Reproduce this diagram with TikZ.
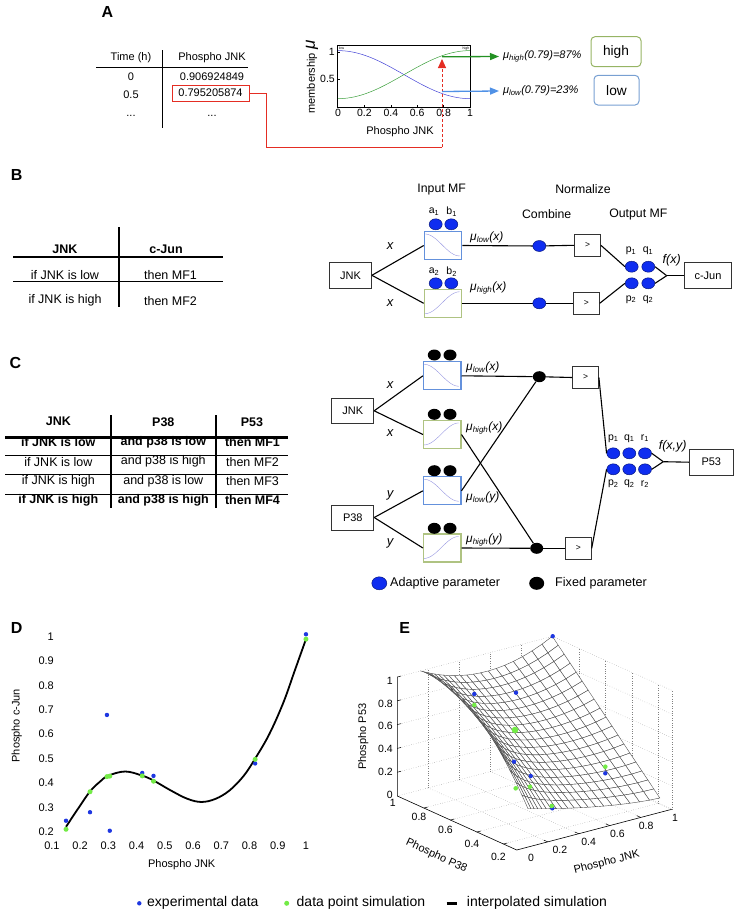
\documentclass[tikz,border=0pt]{standalone}
\usepackage{fontspec}
\setmainfont{Liberation Sans}
\usetikzlibrary{arrows.meta,shapes.geometric}

\newcommand{\fsz}[1]{\fontsize{#1}{#1}\selectfont}
% small membership curve inside an MF box; #2 is - (falling) or + (rising)
\newcommand{\mfcurve}[2]{\begin{scope}[shift={(#1.north west)}]
  \draw[mfline] plot[domain=0:1,samples=25] ({1+35*\x},{3+22*(0.5#20.5*cos(180*\x))});
\end{scope}}

\definecolor{parblue}{RGB}{15,45,240}
\definecolor{mfblue}{RGB}{100,145,220}
\definecolor{mfgreen}{RGB}{175,195,130}
\definecolor{mfcurvecol}{RGB}{150,150,225}
\definecolor{redA}{RGB}{228,45,35}
\definecolor{arrgreen}{RGB}{35,145,35}
\definecolor{arrblue}{RGB}{80,145,230}
\definecolor{boxgreen}{RGB}{150,180,100}
\definecolor{boxblue}{RGB}{120,160,210}
\definecolor{curveblue}{RGB}{70,70,215}
\definecolor{curvegreen}{RGB}{60,160,60}
\definecolor{ptblue}{RGB}{30,55,225}
\definecolor{ptgreen}{RGB}{115,235,70}
\definecolor{meshgray}{RGB}{75,75,75}

\tikzset{
  panel/.style={font=\fsz{16}\bfseries},
  tab/.style={font=\fsz{12.5}},
  tabb/.style={font=\fsz{12.5}\bfseries},
  inbox/.style={draw=black!80,line width=0.8pt,minimum width=42pt,minimum height=26pt,inner sep=0pt,font=\fsz{11}},
  mfbox/.style={draw=#1,line width=1.1pt,fill=white,minimum width=37.5pt,minimum height=28pt,inner sep=0pt},
  normbox/.style={draw=black!80,line width=0.8pt,minimum width=26pt,minimum height=22pt,inner sep=0pt,font=\fsz{8.5}},
  adapt/.style={ellipse,fill=parblue,draw=parblue!55!black,line width=0.5pt,minimum width=13pt,minimum height=11pt,inner sep=0pt},
  fixed/.style={ellipse,fill=black,minimum width=13pt,minimum height=11pt,inner sep=0pt},
  wire/.style={line width=1.1pt},
  mfline/.style={mfcurvecol,line width=0.4pt},
  mulbl/.style={anchor=west,font=\fsz{12}\itshape,inner sep=0pt},
  varlbl/.style={font=\fsz{13}\itshape},
  parlbl/.style={font=\fsz{10.5}},
  head/.style={font=\fsz{12.3}},
  gridE/.style={gray,line width=0.4pt,dotted},
  meshE/.style={fill=white,draw=meshgray,line width=0.4pt},
  lgtext/.style={anchor=west,inner sep=0pt,font=\fsz{14}}
}

\begin{document}
\begin{tikzpicture}[x=1pt,y=-1pt,>=Stealth,font=\fsz{11},
  declare function={
    eX(\pP,\jJ)=397.3+(1-\pP)*132.7+\jJ*155;
    eY(\pP,\jJ,\zZ)=796+(1-\pP)*60-\jJ*40.7-119*\zZ;
    zE(\sA,\tA)=\sA*(1-0.6*\tA*(1-\tA))+(1-\sA)*(0.05+0.2*(1-\tA)*sqrt(1-\tA))+0.92*\sA*(1-\sA)*exp(-\tA/0.12);
  }]
\useasboundingbox (0,0) rectangle (737,916);

% panel letters
\node[panel] (pA) at (107.5,11.7) {A};
\node[panel] (pB) at (16.7,175) {B};
\node[panel] (pC) at (15.3,363.3) {C};
\node[panel] (pD) at (16.7,628.3) {D};
\node[panel] (pE) at (404.7,628.3) {E};

% ---------------- A: data table
\node (aHt) at (131,58) {Time (h)};
\node (aHv) at (212,58) {Phospho JNK};
\draw[line width=1.3pt] (96,67.7) -- (248,67.7);
\draw[line width=1.3pt] (162.7,50) -- (162.7,128);
\node (aT0) at (131,77) {0};
\node (aV0) at (212,77) {0.906924849};
\node (aT1) at (131,95) {0.5};
\node[draw=redA,line width=0.9pt,minimum width=77pt,minimum height=16pt,inner sep=0pt] (redBox) at (210.5,93) {0.795205874};
\node (aT2) at (131,116) {...};
\node (aV2) at (212,116) {...};

% ---------------- A: membership functions
\draw[line width=0.6pt] (337.7,45.7) rectangle (470.3,107.3);
\begin{scope}[shift={(338pt,-106.3pt)},x=132pt,y=54.6pt]
  \draw[curveblue,line width=0.5pt] plot[domain=0:1,samples=40] (\x,{0.58+0.44*cos(180*\x)});
  \draw[curvegreen,line width=0.5pt] plot[domain=0:1,samples=40] (\x,{0.58-0.44*cos(180*\x)});
  \foreach \v in {0.2,0.4,0.6,0.8} \draw[line width=0.4pt] (\v,-0.018) -- ++(0,2pt);
  \foreach \w in {0.5,1} \draw[line width=0.4pt] (0,\w) -- ++(2pt,0);
\end{scope}
\node[font=\fsz{3.5},anchor=north west,inner sep=0.6pt] (tLow) at (338,46) {low};
\node[font=\fsz{3.5},anchor=north east,inner sep=0.6pt] (tHigh) at (470,46) {high};
\foreach \v [count=\k] in {0,0.2,0.4,0.6,0.8,1} \node[font=\fsz{10.5}] (axA\k) at ({338+132*\v},113) {\v};
\node[font=\fsz{10.5},anchor=east,inner sep=1pt] (ayA1) at (336,79) {0.5};
\node[font=\fsz{10.5},anchor=east,inner sep=1pt] (ayA2) at (336,51.7) {1};
\node (xlA) at (400,131.7) {Phospho JNK};
\node[rotate=90] (ylA) at (312,77) {membership \fsz{17}\textit{μ}};

% red link from the value to the plot
\coordinate (redTurn) at (266,147);
\coordinate (redFoot) at (442,147);
\coordinate (redTip) at (442,59);
\draw[redA,line width=1pt] (redBox.east) -| (redTurn) -- (redFoot);
\draw[redA,line width=1pt,dash pattern=on 3pt off 2pt,-{Triangle[width=8pt,length=9pt]}] (redFoot) -- (redTip);

% fuzzified values
\coordinate (hiPt) at (442,56.8);
\coordinate (loPt) at (442,91.5);
\node[anchor=west,inner sep=0pt,font=\fsz{11}\itshape] (hiLbl) at (503,56.5) {μ\textsubscript{high}(0.79)=87\%};
\node[anchor=west,inner sep=0pt,font=\fsz{11}\itshape] (loLbl) at (503,91) {μ\textsubscript{low}(0.79)=23\%};
\draw[arrgreen,line width=1.3pt,-{Triangle[width=7pt,length=9pt]}] (hiPt) -- ([xshift=-4pt]hiLbl.west);
\draw[arrblue,line width=1.3pt,-{Triangle[width=7pt,length=9pt]}] (loPt) -- ([xshift=-4pt]loLbl.west);
\node[draw=boxgreen,rounded corners=4pt,line width=1pt,minimum width=50pt,minimum height=30pt,font=\fsz{13.7}] (hiBox) at (616,51.7) {high};
\node[draw=boxblue,rounded corners=4pt,line width=1pt,minimum width=45pt,minimum height=29.7pt,font=\fsz{13.7}] (loBox) at (616.5,90.2) {low};

% ---------------- B: rule table
\node[tabb] (bH1) at (65,249.3) {JNK};
\node[tabb] (bH2) at (166,249.3) {c-Jun};
\draw[line width=2.4pt] (13,256.7) -- (223,256.7);
\draw[line width=0.8pt] (13,281) -- (223,281);
\draw[line width=2pt] (119,227.3) -- (119,306.7);
\node[tab] (bR1a) at (65,274.7) {if JNK is low};
\node[tab] (bR1b) at (170.5,274.7) {then MF1};
\node[tab] (bR2a) at (65,300.7) {if JNK is high};
\node[tab] (bR2b) at (170.5,300.7) {then MF2};

% ---------------- B: network
\node[head] (hInB) at (441.7,189.3) {Input MF};
\node[head] (hNoB) at (583,189.3) {Normalize};
\node[head] (hCoB) at (546.7,214) {Combine};
\node[head] (hOuB) at (638.3,214) {Output MF};

\node[inbox] (jnkB) at (350.5,275.3) {JNK};
\node[mfbox=mfblue] (mfBlo) at (443,245.5) {};
\node[mfbox=mfgreen] (mfBhi) at (443,303.3) {};
\mfcurve{mfBlo}{-}
\mfcurve{mfBhi}{+}
\node[normbox] (nmBlo) at (587.5,245.3) {>};
\node[normbox] (nmBhi) at (586.3,303.3) {>};
\coordinate (jnB) at (666.7,275.7);
\node[inbox,minimum width=47.4pt] (cjunB) at (708,275.7) {c-Jun};

\draw[wire] (jnkB.east) -- (mfBlo.west);
\draw[wire] (jnkB.east) -- (mfBhi.west);
\draw[wire] (mfBlo.east) -- (539.3,246) coordinate (cB1) -- (nmBlo.west);
\draw[wire] (mfBhi.east) -- (539.3,303.3) coordinate (cB2) -- (nmBhi.west);

\node[adapt] (aB1) at (435.7,224.3) {};
\node[adapt] (bB1) at (451.3,224.3) {};
\node[adapt] (aB2) at (435.7,283.3) {};
\node[adapt] (bB2) at (451.3,283.3) {};
\node[adapt] (cmBlo) at (cB1) {};
\node[adapt] (cmBhi) at (cB2) {};
\node[adapt] (pB1) at (631.7,266.7) {};
\node[adapt] (qB1) at (648.3,266.7) {};
\node[adapt] (pB2) at (631.7,283.3) {};
\node[adapt] (qB2) at (648.3,283.3) {};

\draw[wire] (nmBlo.east) -- (pB1.west);
\draw[wire] (nmBhi.east) -- (pB2.west);
\draw[wire] (qB1.east) -- (jnB);
\draw[wire] (qB2.east) -- (jnB);
\draw[wire] (jnB) -- (cjunB.west);

\node[parlbl] (laB1) at (434,211.7) {a\textsubscript{1}};
\node[parlbl] (lbB1) at (451.7,211.7) {b\textsubscript{1}};
\node[parlbl] (laB2) at (434,271.7) {a\textsubscript{2}};
\node[parlbl] (lbB2) at (451.7,271.7) {b\textsubscript{2}};
\node[parlbl] (lpB1) at (631,250.7) {p\textsubscript{1}};
\node[parlbl] (lqB1) at (648,250.7) {q\textsubscript{1}};
\node[parlbl] (lpB2) at (631,299.3) {p\textsubscript{2}};
\node[parlbl] (lqB2) at (648,299.3) {q\textsubscript{2}};
\node[varlbl] (xB1) at (390,246) {x};
\node[varlbl] (xB2) at (390,302.7) {x};
\node[mulbl] (muB1) at (470,237.3) {μ\textsubscript{low}(x)};
\node[mulbl] (muB2) at (470,288.3) {μ\textsubscript{high}(x)};
\node[font=\fsz{12.5}\itshape] (fB) at (671.7,260) {f(x)};

% ---------------- C: rule table
\node[tabb] (cH1) at (58.5,421.7) {JNK};
\node[tabb] (cH2) at (163.3,421.7) {P38};
\node[tabb] (cH3) at (252,421.7) {P53};
\draw[line width=2pt] (111,415) -- (111,508);
\draw[line width=2pt] (216,415) -- (216,508);
\draw[line width=2.4pt] (5,437.5) -- (288.3,437.5);
\foreach \h in {455.3,474.8,494.5} \draw[line width=1pt] (5,\h) -- (288.3,\h);
\foreach \ya/\rs/\ta/\tb/\tc [count=\k] in {442/\bfseries/if JNK is low/and p38 is low/then MF1,
    461.7//if JNK is low/and p38 is high/then MF2,
    481//if JNK is high/and p38 is low/then MF3,
    500.5/\bfseries/if JNK is high/and p38 is high/then MF4}{
  \node[tab] (cR\k a) at (58.3,\ya) {\rs\ta};
  \node[tab] (cR\k b) at (163.3,\ya) {\rs\tb};
  \node[tab] (cR\k c) at (252.5,\ya) {\rs\tc};
}

% ---------------- C: network
\node[inbox,minimum height=25pt] (jnkC) at (352.8,410.8) {JNK};
\node[inbox,minimum height=25pt] (p38C) at (352.8,517.5) {P38};
\node[mfbox=mfblue] (mfC1) at (442.2,375.8) {};
\node[mfbox=mfgreen] (mfC2) at (442.2,434.5) {};
\node[mfbox=mfblue] (mfC3) at (442.2,490.8) {};
\node[mfbox=mfgreen] (mfC4) at (442.2,548) {};
\mfcurve{mfC1}{-}
\mfcurve{mfC2}{+}
\mfcurve{mfC3}{-}
\mfcurve{mfC4}{+}
\node[fixed] (cmC1) at (539.3,376.7) {};
\node[fixed] (cmC2) at (536.7,548.3) {};
\node[normbox] (nmC1) at (585.5,377.5) {>};
\node[normbox] (nmC2) at (578.3,548.3) {>};
\coordinate (jnC) at (663.3,461.7);
\node[inbox,minimum width=44pt] (p53C) at (711.3,462.2) {P53};

\draw[wire] (jnkC.east) -- (mfC1.west);
\draw[wire] (jnkC.east) -- (mfC2.west);
\draw[wire] (p38C.east) -- (mfC3.west);
\draw[wire] (p38C.east) -- (mfC4.west);
\draw[wire] (mfC1.east) -- (cmC1);
\draw[wire] (mfC3.east) -- (cmC1);
\draw[wire] (mfC2.east) -- (cmC2);
\draw[wire] (mfC4.east) -- (cmC2);
\draw[wire] (cmC1) -- (nmC1.west);
\draw[wire] (cmC2) -- (nmC2.west);

\foreach \yy/\k in {355/1,414.3/2,470.7/3,528.3/4}{
  \node[fixed] (aC\k) at (434.3,\yy) {};
  \node[fixed] (bC\k) at (450,\yy) {};
}
\foreach \n/\xx in {p/613.3,q/629.3,r/645}{
  \node[adapt] (\n C1) at (\xx,453.3) {};
  \node[adapt] (\n C2) at (\xx,469.3) {};
  \node[parlbl] (l\n C1) at (\xx,438.3) {\n\textsubscript{1}};
  \node[parlbl] (l\n C2) at (\xx,484) {\n\textsubscript{2}};
}
\draw[wire] (nmC1.east) -- (pC1.west);
\draw[wire] (nmC2.east) -- (pC2.west);
\draw[wire] (rC1.east) -- (jnC);
\draw[wire] (rC2.east) -- (jnC);
\draw[wire] (jnC) -- (p53C.west);

\node[varlbl] (xC1) at (390,385) {x};
\node[varlbl] (xC2) at (390,433.3) {x};
\node[varlbl] (yC1) at (390,495) {y};
\node[varlbl] (yC2) at (390,543.3) {y};
\node[mulbl] (muC1) at (466,367.7) {μ\textsubscript{low}(x)};
\node[mulbl] (muC2) at (466,428.3) {μ\textsubscript{high}(x)};
\node[mulbl] (muC3) at (466,497.7) {μ\textsubscript{low}(y)};
\node[mulbl] (muC4) at (466,540) {μ\textsubscript{high}(y)};
\node[font=\fsz{12.5}\itshape] (fC) at (672.7,446.7) {f(x,y)};

\node[adapt,minimum width=15pt,minimum height=13pt] (lgAd) at (379.3,583.3) {};
\node[anchor=west,inner sep=0pt,font=\fsz{12.6}] (lgAdT) at (390,583.3) {Adaptive parameter};
\node[fixed,minimum width=15pt,minimum height=13pt] (lgFx) at (536.7,583.3) {};
\node[anchor=west,inner sep=0pt,font=\fsz{12.6}] (lgFxT) at (555,583.3) {Fixed parameter};

% ---------------- D: c-Jun fit
\begin{scope}[shift={(23.67pt,-880.45pt)},x=282.3pt,y=243.75pt]
  \draw[line width=1.8pt] plot[smooth,tension=0.6] coordinates {(0.15,0.22) (0.19,0.29) (0.235,0.365) (0.27,0.405)
    (0.30,0.43) (0.36,0.447) (0.42,0.43) (0.46,0.41) (0.52,0.37) (0.58,0.335) (0.63,0.322) (0.68,0.335)
    (0.73,0.37) (0.78,0.43) (0.82,0.50) (0.87,0.6) (0.92,0.73) (0.96,0.86) (1.0,0.99)};
  \foreach \p/\q in {0.15/0.245,0.235/0.28,0.295/0.679,0.305/0.204,0.42/0.441,0.46/0.429,0.82/0.48,1/1.01}
    \fill[ptblue] (\p,\q) circle[radius=2.2pt];
  \foreach \p/\q in {0.15/0.21,0.235/0.364,0.295/0.426,0.305/0.428,0.42/0.429,0.46/0.407,0.82/0.497,1/0.99}
    \fill[ptgreen] (\p,\q) circle[radius=2.5pt];
\end{scope}
\foreach \v [count=\k] in {0.1,0.2,0.3,0.4,0.5,0.6,0.7,0.8,0.9,1}
  \node (axD\k) at ({23.67+282.3*\v},846) {\v};
\foreach \w [count=\k] in {0.2,0.3,0.4,0.5,0.6,0.7,0.8,0.9,1}
  \node[anchor=east,inner sep=1pt] (ayD\k) at (55,{880.45-243.75*\w}) {\w};
\node (xlD) at (181.7,865) {Phospho JNK};
\node[rotate=90] (ylD) at (16.7,725.7) {Phospho c-Jun};

% ---------------- E: P53 surface
\foreach \z in {0,0.2,0.4,0.6,0.8,1}
  \draw[gridE] ({eX(1,0)},{eY(1,0,\z)}) -- ({eX(1,1)},{eY(1,1,\z)}) -- ({eX(0.1,1)},{eY(0.1,1,\z)});
\foreach \j in {0.2,0.4,0.6,0.8,1}{
  \draw[gridE] ({eX(1,\j)},{eY(1,\j,0)}) -- ({eX(1,\j)},{eY(1,\j,1)});
  \draw[gridE] ({eX(1,\j)},{eY(1,\j,0)}) -- ({eX(0.1,\j)},{eY(0.1,\j,0)});
}
\foreach \p in {0.8,0.6,0.4,0.2}{
  \draw[gridE] ({eX(\p,1)},{eY(\p,1,0)}) -- ({eX(\p,1)},{eY(\p,1,1)});
  \draw[gridE] ({eX(\p,0)},{eY(\p,0,0)}) -- ({eX(\p,1)},{eY(\p,1,0)});
}
\draw[gridE] ({eX(0.1,1)},{eY(0.1,1,0)}) -- ({eX(0.1,1)},{eY(0.1,1,1)});

\foreach \i in {0,...,18}{
  \foreach \j in {0,...,20}{
    \pgfmathsetmacro\sv{\i/18}
    \pgfmathsetmacro\tv{0.4*\j/20+0.6*(\j/20)*(\j/20)}
    \pgfmathsetmacro\zv{zE(\sv,\tv)}
    \coordinate (m-\i-\j) at ({eX(0.19+0.81*\sv,0.15+0.85*\tv)},{eY(0.19+0.81*\sv,0.15+0.85*\tv,\zv)});
  }
}
\foreach \i [evaluate=\i as \ia using int(\i-1)] in {18,17,...,1}{
  \foreach \j [evaluate=\j as \ja using int(\j-1)] in {20,19,...,1}{
    \filldraw[meshE] (m-\i-\j) -- (m-\ia-\j) -- (m-\ia-\ja) -- (m-\i-\ja) -- cycle;
  }
}

\draw[line width=0.6pt] ({eX(1,0)},{eY(1,0,1)}) -- ({eX(1,0)},{eY(1,0,0)}) -- ({eX(0.1,0)},{eY(0.1,0,0)}) -- ({eX(0.1,1)},{eY(0.1,1,0)});
\foreach \z in {0.2,0.4,0.6,0.8,1}
  \draw[line width=0.5pt] ({eX(1,0)},{eY(1,0,\z)}) -- ({eX(1,0.025)},{eY(1,0.025,\z)});
\foreach \p in {0.8,0.6,0.4,0.2}
  \draw[line width=0.5pt] ({eX(\p,0)},{eY(\p,0,0)}) -- ({eX(\p,0.025)},{eY(\p,0.025,0)});
\foreach \j in {0.2,0.4,0.6,0.8}
  \draw[line width=0.5pt] ({eX(0.1,\j)},{eY(0.1,\j,0)}) -- ({eX(0.13,\j)},{eY(0.13,\j,0)});

\foreach \p/\q in {474.3/694,516/692.7,514/761.7,530.7/776,552.3/808.3,605.3/773.3,552.7/636.2}
  \fill[ptblue] (\p,\q) circle[radius=2.2pt];
\foreach \p/\q/\r in {474.3/705/2.3,515/730/3.3,515.7/788.3/2.3,530/786.7/2.3,551.7/806/2.3,605.3/766.7/2.3}
  \fill[ptgreen] (\p,\q) circle[radius=\r pt];

\foreach \z [count=\k] in {0,0.2,0.4,0.6,0.8,1}
  \node[anchor=east,inner sep=1pt,font=\fsz{10.5}] (ezE\k) at (394,{795-114.5*\z}) {\z};
\foreach \xx/\yy/\v [count=\k] in {392.7/803.3/1,419/816.5/0.8,445.5/830/0.6,472/843.5/0.4,498.3/857/0.2}
  \node[font=\fsz{10.5}] (epE\k) at (\xx,\yy) {\v};
\foreach \xx/\yy/\v [count=\k] in {531/858.3/0,559.8/850.2/0.2,588.6/842.1/0.4,617.4/834/0.6,646.2/825.9/0.8,675/817.8/1}
  \node[font=\fsz{10.5}] (ejE\k) at (\xx,\yy) {\v};
\node[rotate=-24.8] (xlE1) at (436.5,856) {Phospho P38};
\node[rotate=14] (xlE2) at (606.7,862.5) {Phospho JNK};
\node[rotate=90] (ylE) at (363.3,736.7) {Phospho P53};

% ---------------- legend for D and E
\node[circle,fill=ptblue,inner sep=0pt,minimum size=4.4pt] (lgB) at (139.3,903.3) {};
\node[lgtext] (lgBt) at (147,903.3) {experimental data};
\node[circle,fill=ptgreen,inner sep=0pt,minimum size=5pt] (lgG) at (286.7,903.3) {};
\node[lgtext] (lgGt) at (296.5,903.3) {data point simulation};
\coordinate (lgL1) at (446.7,903.3);
\coordinate (lgL2) at (457.3,903.3);
\draw[line width=2.5pt] (lgL1) -- (lgL2);
\node[lgtext] (lgLt) at (466.7,903.3) {interpolated simulation};
\end{tikzpicture}
\end{document}
